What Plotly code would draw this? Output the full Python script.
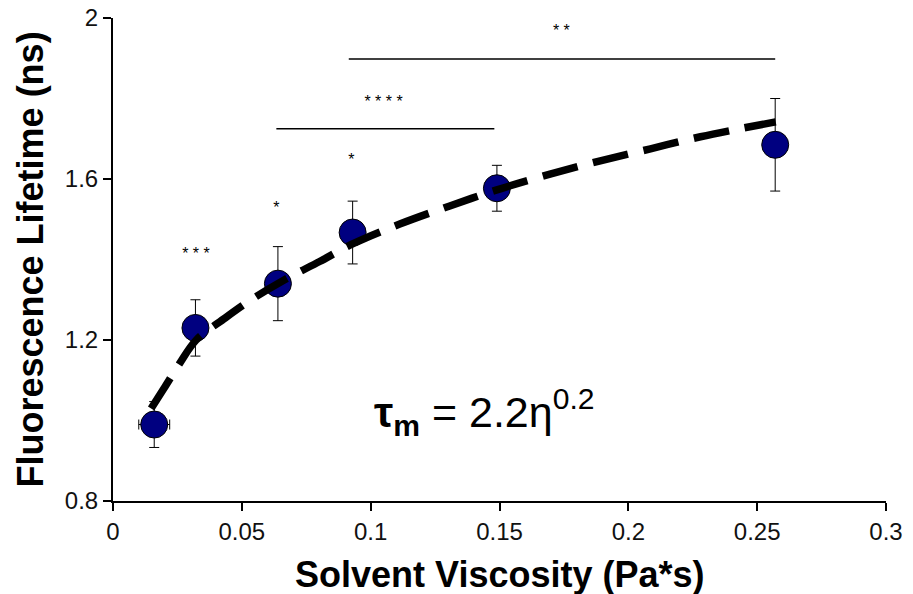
import plotly.graph_objects as go

# Data points (mean lifetime vs viscosity)
viscosity = [0.016, 0.032, 0.064, 0.093, 0.149, 0.257]
lifetime = [0.99, 1.23, 1.34, 1.467, 1.577, 1.685]
lifetime_err = [0.057, 0.07, 0.092, 0.078, 0.057, 0.115]
viscosity_err = [0.006, 0, 0, 0, 0, 0]

# Fitted power-law trend line
fit_x = [0.0148, 0.0198, 0.0257, 0.0323, 0.0436, 0.0541, 0.0661, 0.0802,
         0.0934, 0.1113, 0.1307, 0.149, 0.1696, 0.1891, 0.2086, 0.228, 0.2572]
fit_y = [1.03, 1.08, 1.14, 1.2, 1.255, 1.302, 1.348, 1.395,
         1.44, 1.488, 1.533, 1.573, 1.612, 1.645, 1.675, 1.705, 1.742]

# Significance brackets
bracket1_x = [0.0634, 0.148]
bracket1_y = [1.725, 1.725]
bracket2_x = [0.0915, 0.257]
bracket2_y = [1.898, 1.898]

# Star labels
star_text = ["* * *", "*", "*", "* * * *", "* *"]
star_x = [0.0322, 0.0634, 0.0925, 0.105, 0.174]
star_y = [1.41, 1.525, 1.645, 1.788, 1.965]

x_ticks = [0, 0.05, 0.1, 0.15, 0.2, 0.25, 0.3]
x_labels = ["0", "0.05", "0.1", "0.15", "0.2", "0.25", "0.3"]
y_ticks = [0.8, 1.2, 1.6, 2.0]
y_labels = ["0.8", "1.2", "1.6", "2"]

FONT = "Liberation Sans, Arial, sans-serif"

fig = go.Figure()

fig.add_trace(go.Scatter(
    x=viscosity, y=lifetime, mode="markers",
    marker=dict(size=27, color="#000080", line=dict(color="black", width=1)),
    error_y=dict(type="data", array=lifetime_err, color="black", thickness=1, width=5),
    error_x=dict(type="data", array=viscosity_err, color="black", thickness=1, width=5),
    showlegend=False, hoverinfo="skip"))

fig.add_trace(go.Scatter(
    x=fit_x, y=fit_y, mode="lines", line_shape="spline",
    line=dict(color="black", width=7.5, dash="36px,16px"),
    showlegend=False, hoverinfo="skip"))

for bx, by in [(bracket1_x, bracket1_y), (bracket2_x, bracket2_y)]:
    fig.add_trace(go.Scatter(x=bx, y=by, mode="lines",
                             line=dict(color="black", width=1.5),
                             showlegend=False, hoverinfo="skip"))

fig.add_trace(go.Scatter(
    x=star_x, y=star_y, mode="text", text=star_text,
    textfont=dict(family=FONT, size=16, color="black"),
    showlegend=False, hoverinfo="skip"))

fig.add_annotation(
    x=0.144, y=1.02, xref="x", yref="y", showarrow=False,
    text="<b>τ<sub>m</sub></b> = 2.2η<sup>0.2</sup>",
    font=dict(family=FONT, size=43, color="black"))

# Axis titles
fig.add_annotation(
    x=0.5, y=0, xref="paper", yref="paper", xanchor="center", yanchor="middle",
    yshift=-73, showarrow=False, text="<b>Solvent Viscosity (Pa*s)</b>",
    font=dict(family=FONT, size=36, color="black"))
fig.add_annotation(
    x=0, y=0.5, xref="paper", yref="paper", xanchor="center", yanchor="middle",
    xshift=-83, textangle=-90, showarrow=False,
    text="<b>Fluorescence Lifetime (ns)</b>",
    font=dict(family=FONT, size=36, color="black"))

axis_font = dict(family=FONT, size=24, color="#111111")

fig.update_xaxes(
    range=[0, 0.3], tickvals=x_ticks, ticktext=x_labels,
    showline=True, linecolor="black", linewidth=2, ticks="outside",
    ticklen=8, tickwidth=2, tickcolor="black", showgrid=False, zeroline=False,
    tickfont=axis_font, automargin=False, ticklabeloverflow="allow")

fig.update_yaxes(
    range=[0.8, 2.0], tickvals=y_ticks, ticktext=y_labels,
    showline=True, linecolor="black", linewidth=2, ticks="outside",
    ticklen=8, tickwidth=2, tickcolor="black", showgrid=False, zeroline=False,
    tickfont=axis_font, automargin=False, ticklabeloverflow="allow")

# the page body adds an 8px margin, so the figure is 8px smaller and shifted
fig.update_layout(
    width=905, height=586,
    margin=dict(l=105, r=27, t=10, b=93),
    plot_bgcolor="white", paper_bgcolor="white")

fig.write_html("out.html")
